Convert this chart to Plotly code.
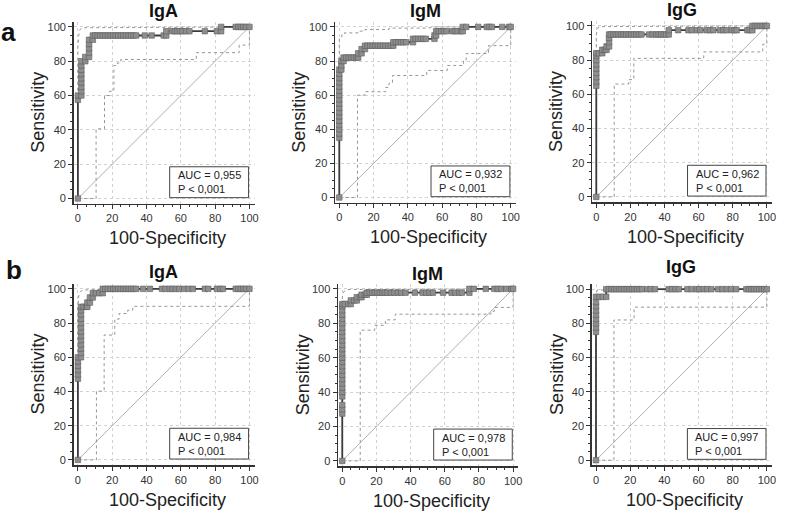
import plotly.graph_objects as go

# ---------------- data (100-Specificity, Sensitivity) ----------------
DIAG_X = [0, 100]
DIAG_Y = [0, 100]

A_IGA_ROC = [(0,0),(0,57.5),(0,60),(2,60),(2,62.5),(2,65),(2,67.5),(2,70),(2,72.5),(2,75),(2,77.5),(2,80),
             (4.3,80),(4.3,82.5),(6.5,82.5),(6.5,85),(6.5,87.5),(6.5,90),(6.5,92.5),(8.7,92.5),(8.7,95),
             (10,95),(11.5,95),(13,95),(14.5,95),(16,95),(17.5,95),(19,95),(20.5,95),(22,95),(23.5,95),(25,95),
             (26.5,95),(28,95),(29.5,95),(31,95),(32.5,95),(34,95),(39,95),(43,95),(50,95),(51.5,95),(51.5,97.5),
             (55,97.5),(56.5,97.5),(58,97.5),(59.5,97.5),(61,97.5),(63,97.5),(65,97.5),(74,97.5),(81,97.5),
             (83.5,97.5),(83.5,100),(92,100),(93.5,100),(95,100),(96.5,100),(98,100),(100,100)]
A_IGA_LO = [(0,0),(10.6,0),(10.6,40.6),(15.5,40.6),(15.5,60),(18.5,60),(18.5,62.5),(21,62.5),(21,77.5),
            (23,77.5),(23,79),(25,79),(25,81),(69,81),(69,85),(94,85),(94,89.4),(100,89.4),(100,100)]
A_IGA_HI = [(0,0),(0,88),(0.5,95),(1.2,98.5),(2.5,99.5),(100,100)]

A_IGM_ROC = [(0,0),(0,35),(0,37.5),(0,40),(0,42.5),(0,45),(0,47.5),(0,50),(0,52.5),(0,55),(0,57.5),(0,60),
             (0,62.5),(0,65),(0,67.5),(0,70),(0,72.5),(0,75),(1.2,75),(1.2,77.5),(1.2,80),(2.5,80),(2.5,82),
             (4,82),(5.5,82),(7,82),(8.5,82),(10,82),(11,82),(11,84.5),(13,84.5),(13,87),(15,87),(15,89),
             (16.5,89),(18,89),(19.5,89),(21,89),(22.5,89),(24,89),(25.5,89),(27,89),(28.5,89),(30,89),(31.5,89),
             (31.5,91),(33,91),(34.5,91),(36,91),(37.5,91),(39,91),(43,91),(43,93),(44.5,93),(46,93),(47.5,93),
             (49,93),(50.5,93),(55.5,93),(55.5,95),(56.5,95),(56.5,97.5),(58,97.5),(59.5,97.5),(61,97.5),
             (62.5,97.5),(66,97.5),(67.5,97.5),(69,97.5),(71,97.5),(72,97.5),(72,100),(74,100),(81,100),
             (86,100),(87.5,100),(89,100),(95,100),(99,100),(100,100)]
A_IGM_LO = [(0,0),(10.6,0),(10.6,60),(15,60),(15,62),(27,62),(27,64.5),(29,64.5),(29,67),(31,67),(31,71.5),
            (51,71.5),(51,74.5),(63,74.5),(63,77.4),(72.5,77.4),(72.5,80.4),(74,80.4),(74,84.4),(87,84.4),
            (87,89),(100,89),(100,100)]
A_IGM_HI = [(0,0),(0,93),(1.5,93.5),(1.5,95.5),(3,95.5),(3,96.5),(11,96.5),(11,97.5),(15,97.5),(15,98.5),
            (29,98.5),(29,99.3),(52,99.3),(55,100),(100,100)]

A_IGG_ROC = [(0,0),(0,65),(0,67.5),(0,70),(0,72.5),(0,75),(0,77.5),(0,80),(0,82.5),(0,84),(1.5,84),(3.5,84),
             (3.5,86),(5,86),(6,86),(6,88),(7.5,88),(7.5,90.5),(7.5,93),(7.5,95),(8.5,95),(10,95),(11.5,95),
             (13,95),(14.5,95),(16,95),(17.5,95),(19,95),(20.5,95),(22,95),(23.5,95),(25,95),(26.5,95),(31,95),
             (33,95),(35,95),(36.5,95),(38,95),(39.5,95),(41,95),(42.5,95),(42.5,97.5),(48,97.5),(54,97.5),
             (56,97.5),(59,97.5),(61,97.5),(64.7,97.5),(66.7,97.5),(68.6,97.5),(72.5,97.5),(74.5,97.5),
             (76.4,97.5),(79.4,97.5),(81,97.5),(82.3,97.5),(88.6,97.5),(90,97.5),(91.5,97.5),(91.5,100),
             (93,100),(94.5,100),(96,100),(97.5,100),(99,100),(100,100)]
A_IGG_LO = [(0,0),(10.5,0),(10.5,66),(19,66),(19,68.6),(22,68.6),(22,81),(63,81),(63,84.8),(97.6,84.8),
            (97.6,89.3),(100,89.3),(100,100)]
A_IGG_HI = [(0,0),(0,95),(0.6,98),(1.5,99.6),(100,100)]

B_IGA_ROC = [(0,0),(0,47.5),(0,50),(0,52.5),(0,55),(0,57.5),(0,60),(1.8,60),(1.8,62.5),(1.8,65),(1.8,67.5),
             (1.8,70),(1.8,72.5),(1.8,75),(1.8,77.5),(1.8,80),(1.8,82.5),(1.8,85),(1.8,87.5),(1.8,89.5),
             (3.3,89.5),(4.8,89.5),(5.5,89.5),(5.5,92),(7,92),(7,95),(8.7,95),(8.7,97.5),(10.5,97.5),
             (12.5,97.5),(14.5,97.5),(14.5,100),(16,100),(17.5,100),(19,100),(20.5,100),(22,100),(23.5,100),
             (25,100),(26.5,100),(28,100),(29.5,100),(31,100),(32.5,100),(34,100),(38,100),(42,100),(49,100),
             (51,100),(53.5,100),(55,100),(57,100),(59,100),(62,100),(64.5,100),(67,100),(74,100),(76,100),
             (81,100),(83,100),(84.5,100),(92,100),(93.5,100),(95,100),(96.5,100),(98,100),(100,100)]
B_IGA_LO = [(0,0),(10.8,0),(10.8,40.2),(15.3,40.2),(15.3,73),(21.5,73),(21.5,82.3),(24,82.3),(24,85.6),
            (29,85.6),(29,87.5),(32,87.5),(32,89.8),(100,89.8),(100,100)]
B_IGA_HI = [(0,0),(0,90),(0.5,96),(1.5,98.5),(3,99.3),(14,99.7),(100,100)]

B_IGM_ROC = [(0,0),(0,27.5),(0,30),(0,32.5),(0,37.5),(0,40),(0,42.5),(0,45),(0,47.5),(0,50),(0,52.5),(0,55),
             (0,57.5),(0,60),(0,62.5),(0,65),(0,67.5),(0,70),(0,72.5),(0,75),(0,77.5),(0,80),(0,82.5),(0,85),
             (0,87.5),(0,90),(0,91.2),(1.5,91.2),(3.5,91.2),(5,91.2),(5,93.3),(7,93.3),(8.5,93.3),(8.5,95.2),
             (10.3,95.2),(11.3,95.2),(11.3,96.6),(13.3,96.6),(14.3,96.6),(14.3,97.8),(16,97.8),(17.5,97.8),
             (19,97.8),(20.5,97.8),(22,97.8),(23.5,97.8),(25,97.8),(26.5,97.8),(28.5,97.8),(30.5,97.8),
             (32.5,97.8),(34.5,97.8),(37,97.8),(42.5,97.8),(47,97.8),(49,97.8),(51,97.8),(53,97.8),(59,97.8),
             (64,97.8),(66,97.8),(68.5,97.8),(70,97.8),(74.4,97.8),(74.4,100),(77,100),(84,100),(89,100),
             (91,100),(93,100),(96,100),(99,100),(100,100)]
B_IGM_LO = [(0,0),(10.5,0),(10.5,76),(19,76),(19,78.8),(25.2,78.8),(25.2,82),(31,82),(31,85.3),(87,85.3),
            (87,87),(89,87),(89,89.2),(100,89.2),(100,100)]
B_IGM_HI = [(0,0),(0,95),(0.5,97.5),(1.5,99),(3,99.6),(100,100)]

B_IGG_ROC = [(0,0),(0,75),(0,77.5),(0,80),(0,82.5),(0,85),(0,87.5),(0,90),(0,92.5),(0,95.5),(2,95.5),(4,95.5),
             (6,95.5),(6,100),(7.5,100),(9,100),(10.5,100),(12,100),(13.5,100),(15,100),(16.5,100),(18,100),
             (19.5,100),(21,100),(22.5,100),(24,100),(25.5,100),(27,100),(30,100),(32,100),(34.5,100),
             (42.5,100),(44.5,100),(46.5,100),(48.5,100),(53.5,100),(56,100),(59,100),(60.5,100),(63,100),
             (65,100),(67.5,100),(71.5,100),(74,100),(76.5,100),(79,100),(82,100),(88,100),(89.5,100),
             (91,100),(92.5,100),(94,100),(95.5,100),(97,100),(98.5,100),(100,100)]
B_IGG_LO = [(0,0),(10.5,0),(10.5,82),(22.3,82),(22.3,89.5),(100,89.5),(100,100)]
B_IGG_HI = [(0,0),(0,97),(0.8,99.5),(100,100)]

TITLES = ["IgA", "IgM", "IgG", "IgA", "IgM", "IgG"]
AUCS = ["0,955", "0,932", "0,962", "0,984", "0,978", "0,997"]
P_TEXT = "P &lt; 0,001"
X_TICKS = [0, 20, 40, 60, 80, 100]
Y_TICKS = [0, 20, 40, 60, 80, 100]
ROCS = [A_IGA_ROC, A_IGM_ROC, A_IGG_ROC, B_IGA_ROC, B_IGM_ROC, B_IGG_ROC]
LOS = [A_IGA_LO, A_IGM_LO, A_IGG_LO, B_IGA_LO, B_IGM_LO, B_IGG_LO]
HIS = [A_IGA_HI, A_IGM_HI, A_IGG_HI, B_IGA_HI, B_IGM_HI, B_IGG_HI]

# ---------------- layout geometry (window pixels) ----------------
W, H = 800, 511
XMIN, XMAX = -2.5, 103
YMIN, YMAX = -3, 103
# (px of x=0, px of x=100, py of y=0, py of y=100) in window pixels
GEOM = [(78.3, 250.7, 198.3, 26), (341, 513.3, 197.3, 26), (599.3, 770.7, 196.7, 25),
        (78.3, 250.7, 460.7, 289), (344, 515.7, 461.7, 289), (599, 770.7, 461, 289.3)]
TITLE_PY = [10, 10, 9, 272, 274, 267]


def fx(px):
    return px / W


def fy(py):
    return 1 - py / H


FONT = "Liberation Sans, Arial, sans-serif"
fig = go.Figure()
layout = dict(width=W, height=H, margin=dict(l=0, r=0, t=0, b=0),
              paper_bgcolor="white", plot_bgcolor="white", showlegend=False,
              font=dict(family=FONT, color="#222"))
annotations = []
shapes = []


def unzip(pts):
    return [p[0] for p in pts], [p[1] for p in pts]


for i in range(6):
    k = i + 1
    xa = "xaxis" if k == 1 else f"xaxis{k}"
    ya = "yaxis" if k == 1 else f"yaxis{k}"
    xr = "x" if k == 1 else f"x{k}"
    yr = "y" if k == 1 else f"y{k}"
    x0, x100, y0, y100 = GEOM[i]
    sx = (x100 - x0) / 100
    sy = (y0 - y100) / 100
    dl = fx(x0 + XMIN * sx)
    dr = fx(x0 + XMAX * sx)
    db = fy(y0 - YMIN * sy)
    dt = fy(y0 - YMAX * sy)
    common = dict(showline=True, linecolor="#333", linewidth=1.5, ticks="outside", ticklen=4,
                  tickcolor="#333", tickwidth=1, zeroline=False, showgrid=True, gridcolor="#d2d2d2",
                  griddash="dot", gridwidth=1, tickfont=dict(size=11, color="#333", family=FONT),
                  minor=dict(dtick=5, ticks="outside", ticklen=2, tickcolor="#333", showgrid=False),
                  fixedrange=True)
    layout[xa] = dict(common, domain=[dl, dr], range=[XMIN, XMAX], anchor=yr,
                      tickmode="array", tickvals=X_TICKS)
    layout[ya] = dict(common, domain=[db, dt], range=[YMIN, YMAX], anchor=xr,
                      tickmode="array", tickvals=Y_TICKS)

    # diagonal
    fig.add_trace(go.Scatter(x=DIAG_X, y=DIAG_Y, mode="lines", xaxis=xr, yaxis=yr,
                             line=dict(color="#b0b0b0", width=1), hoverinfo="skip"))
    # confidence bounds
    for pts in (LOS[i], HIS[i]):
        xs, ys = unzip(pts)
        fig.add_trace(go.Scatter(x=xs, y=ys, mode="lines", xaxis=xr, yaxis=yr, hoverinfo="skip",
                                 line=dict(color="#959595", width=1, dash="dot")))
    # ROC curve
    xs, ys = unzip(ROCS[i])
    fig.add_trace(go.Scatter(x=xs, y=ys, mode="lines+markers", xaxis=xr, yaxis=yr,
                             line=dict(color="#3c3c3c", width=1.8),
                             marker=dict(symbol="square", size=5.5, color="#8e8e8e",
                                         line=dict(color="#5e5e5e", width=0.6))))

    # AUC box
    shapes.append(dict(type="rect", xref=xr, yref=yr, x0=53.5, x1=99.5, y0=0.5, y1=18.5,
                       line=dict(color="#444", width=1), fillcolor="white", layer="above"))
    annotations.append(dict(xref=xr, yref=yr, x=57, y=9.5, xanchor="left", yanchor="middle",
                            text=f"AUC = {AUCS[i]}<br>{P_TEXT}", showarrow=False, align="left",
                            font=dict(size=11, color="#222", family=FONT)))
    # panel title
    annotations.append(dict(xref="paper", yref="paper", x=fx((x0 + x100) / 2), y=fy(TITLE_PY[i]),
                            xanchor="center", yanchor="middle", text=f"<b>{TITLES[i]}</b>",
                            showarrow=False, font=dict(size=18, color="#111", family=FONT)))
    # axis titles
    annotations.append(dict(xref="paper", yref="paper", x=fx(x0 - 40), y=fy((y0 + y100) / 2),
                            xanchor="center", yanchor="middle", text="Sensitivity", textangle=-90,
                            showarrow=False, font=dict(size=18, color="#222", family=FONT)))
    annotations.append(dict(xref="paper", yref="paper", x=fx((x0 + x100) / 2 + 3.5), y=fy(y0 + 40),
                            xanchor="center", yanchor="middle", text="100-Specificity",
                            showarrow=False, font=dict(size=18, color="#222", family=FONT)))

# panel letters
annotations.append(dict(xref="paper", yref="paper", x=fx(8.5), y=fy(31), xanchor="center",
                        yanchor="middle", text="<b>a</b>", showarrow=False,
                        font=dict(size=26, color="#111", family=FONT)))
annotations.append(dict(xref="paper", yref="paper", x=fx(14.5), y=fy(270), xanchor="center",
                        yanchor="middle", text="<b>b</b>", showarrow=False,
                        font=dict(size=26, color="#111", family=FONT)))

layout["annotations"] = annotations
layout["shapes"] = shapes
fig.update_layout(**layout)

# the page's default 8px body margin would push the 800x511 figure partly out of the window
POST_JS = "document.body.style.margin='0';document.body.style.overflow='hidden';"
fig.write_html("out.html", post_script=POST_JS, config={"displayModeBar": False, "staticPlot": True})
